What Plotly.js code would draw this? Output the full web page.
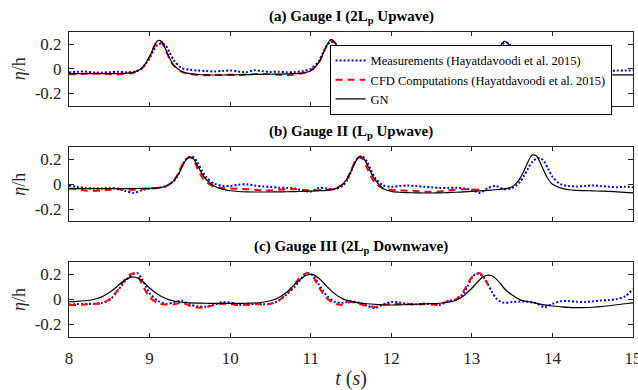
<!DOCTYPE html>
<html>
<head>
<meta charset="utf-8">
<script src="https://cdn.plot.ly/plotly-3.0.1.min.js"></script>
<style>html,body{margin:0;padding:0;background:#fff;}#chart{width:638px;height:390px;}</style>
</head>
<body>
<div id="chart"></div>
<script>
// ---------- Gauge I (2Lp Upwave) ----------
const tA = [8.0,8.1,8.2,8.3,8.4,8.5,8.6,8.7,8.8,8.9,9.0,
  9.05,9.1,9.15,9.2,9.25,9.3,
  9.4,9.5,9.6,9.7,9.8,9.9,10.0,10.1,10.2,10.3,10.4,10.5,10.6,10.7,10.8,10.9,11.0,11.1,
  11.15,11.2,11.25,11.3,11.35,11.4,
  11.5,11.6,11.7,11.8,11.9,12.0,12.1,12.2,12.3,12.4,12.5,12.6,12.7,12.8,12.9,13.0,13.1,13.2,13.3,
  13.35,13.4,13.45,13.5,
  13.6,13.7,13.8,13.9,14.0,14.1,14.2,14.3,14.4,14.5,14.6,14.7,14.8,14.9,15.0];
const measA = [-0.030,-0.025,-0.022,-0.030,-0.032,-0.028,-0.024,-0.028,-0.025,0.000,0.085,
  0.150,0.195,0.207,0.190,0.130,0.070,
  0.005,-0.008,-0.015,-0.018,-0.022,-0.018,-0.014,-0.022,-0.028,-0.012,-0.020,-0.026,-0.024,-0.028,-0.027,-0.020,0.000,0.060,
  0.130,0.190,0.220,0.210,0.160,0.090,
  0.010,-0.012,-0.020,-0.025,-0.020,-0.015,-0.022,-0.030,-0.020,-0.025,-0.030,-0.025,-0.020,-0.025,-0.030,-0.028,-0.020,0.010,0.100,
  0.170,0.210,0.212,0.170,
  0.060,0.000,-0.015,-0.020,-0.018,-0.020,-0.015,-0.020,-0.018,-0.015,-0.020,-0.018,-0.015,-0.014,-0.014];
const cfdA = [-0.045,-0.045,-0.040,-0.038,-0.040,-0.043,-0.046,-0.040,-0.032,0.000,0.095,
  0.170,0.224,0.215,0.150,0.078,0.025,
  -0.025,-0.042,-0.050,-0.053,-0.052,-0.050,-0.048,-0.052,-0.047,-0.043,-0.042,-0.044,-0.048,-0.052,-0.046,-0.036,-0.015,0.050,
  0.115,0.190,0.232,0.210,0.140,0.070,
  -0.010,-0.035,-0.045,-0.050,-0.048,-0.045,-0.042,-0.045,-0.050,-0.048,-0.044,-0.042,-0.045,-0.048,-0.045,-0.040,-0.030,0.000,null,
  null,null,null,null,
  null,null,null,null,null,null,null,null,null,null,null,null,null,null,null];
const gnA = [-0.040,-0.040,-0.040,-0.040,-0.040,-0.040,-0.039,-0.037,-0.030,0.001,0.099,
  0.174,0.229,0.222,0.159,0.085,0.029,
  -0.022,-0.040,-0.047,-0.050,-0.051,-0.051,-0.050,-0.049,-0.048,-0.047,-0.046,-0.045,-0.044,-0.042,-0.040,-0.035,-0.016,0.050,
  0.117,0.193,0.239,0.217,0.147,0.073,
  -0.008,-0.032,-0.042,-0.047,-0.049,-0.050,-0.050,-0.049,-0.048,-0.047,-0.046,-0.045,-0.044,-0.042,-0.040,-0.037,-0.029,0.005,0.108,
  0.180,0.224,0.204,0.137,
  0.019,-0.025,-0.040,-0.046,-0.049,-0.050,-0.050,-0.050,-0.050,-0.050,-0.050,-0.050,-0.050,-0.050,-0.050];

// ---------- Gauge II (Lp Upwave) ----------
const tB = [8.0,8.1,8.2,8.3,8.4,8.5,8.6,8.7,8.8,8.9,9.0,9.1,9.2,9.3,
  9.35,9.4,9.45,9.5,9.55,9.6,9.65,9.7,
  9.8,9.9,10.0,10.1,10.2,10.3,10.4,10.5,10.6,10.7,10.8,10.9,11.0,11.1,11.2,11.3,11.4,
  11.45,11.5,11.55,11.6,11.65,11.7,11.75,11.8,
  11.9,12.0,12.1,12.2,12.3,12.4,12.5,12.6,12.7,12.8,12.9,13.0,13.1,13.2,13.3,13.4,13.5,
  13.55,13.6,13.65,13.7,13.75,13.8,13.85,13.9,13.95,14.0,
  14.1,14.2,14.3,14.4,14.5,14.6,14.7,14.8,14.9,15.0];
const measB = [-0.010,-0.022,-0.030,-0.035,-0.035,-0.032,-0.035,-0.055,-0.070,-0.050,-0.035,-0.030,-0.015,0.025,
  0.070,0.140,0.200,0.222,0.215,0.170,0.110,0.060,
  0.005,-0.012,-0.015,-0.005,0.000,-0.010,-0.018,-0.022,-0.028,-0.030,-0.035,-0.050,-0.060,-0.030,-0.035,-0.040,-0.010,
  0.030,0.100,0.180,0.220,0.222,0.180,0.110,0.050,
  -0.010,-0.020,-0.015,-0.010,-0.015,-0.020,-0.025,-0.030,-0.030,-0.028,-0.035,-0.045,-0.070,-0.030,-0.015,-0.040,-0.030,
  -0.010,0.020,0.070,0.130,0.180,0.205,0.210,0.180,0.120,0.060,
  0.000,-0.015,-0.018,-0.015,-0.010,-0.015,-0.020,-0.025,-0.020,-0.025];
const cfdB = [-0.035,-0.040,-0.050,-0.055,-0.050,-0.045,-0.040,-0.042,-0.045,-0.040,-0.035,-0.030,-0.020,0.030,
  0.080,0.150,0.200,0.218,0.190,0.120,0.060,0.020,
  -0.020,-0.030,-0.035,-0.038,-0.040,-0.045,-0.050,-0.050,-0.045,-0.040,-0.040,-0.045,-0.050,-0.048,-0.045,-0.035,0.000,
  0.040,0.110,0.180,0.215,0.200,0.130,0.060,0.010,
  -0.035,-0.045,-0.050,-0.052,-0.055,-0.060,-0.060,-0.058,-0.050,-0.045,-0.040,-0.042,-0.045,null,null,null,null,
  null,null,null,null,null,null,null,null,null,null,
  null,null,null,null,null,null,null,null,null,null];
const gnB = [-0.036,-0.036,-0.036,-0.036,-0.036,-0.035,-0.035,-0.035,-0.035,-0.034,-0.033,-0.030,-0.017,0.027,
  0.072,0.134,0.194,0.220,0.200,0.145,0.085,0.040,
  -0.015,-0.040,-0.053,-0.059,-0.062,-0.063,-0.063,-0.063,-0.062,-0.061,-0.060,-0.058,-0.056,-0.053,-0.050,-0.038,0.003,
  0.044,0.104,0.173,0.220,0.214,0.159,0.090,0.034,
  -0.035,-0.058,-0.065,-0.068,-0.070,-0.071,-0.071,-0.070,-0.068,-0.065,-0.062,-0.058,-0.054,-0.050,-0.045,-0.038,-0.020,
  0.006,0.049,0.112,0.185,0.235,0.229,0.170,0.098,0.038,0.000,
  -0.030,-0.045,-0.050,-0.052,-0.054,-0.056,-0.058,-0.062,-0.066,-0.070];

// ---------- Gauge III (2Lp Downwave) ----------
const tC = [8.0,8.1,8.2,8.3,8.4,8.5,8.6,
  8.65,8.7,8.75,8.8,8.85,8.9,8.95,9.0,
  9.1,9.2,9.3,9.4,9.5,9.6,9.7,9.8,9.9,10.0,10.1,10.2,10.3,10.4,10.5,10.6,10.7,10.8,
  10.85,10.9,10.95,11.0,11.05,11.1,11.15,11.2,
  11.3,11.4,11.5,11.6,11.7,11.8,11.9,12.0,12.1,12.2,12.3,12.4,12.5,12.6,12.7,12.8,12.9,
  12.95,13.0,13.05,13.1,13.15,13.2,13.25,13.3,13.35,13.4,
  13.5,13.6,13.7,13.8,13.9,14.0,14.1,14.2,14.3,14.4,14.5,14.6,14.7,14.8,14.9,15.0];
const measC = [-0.040,-0.037,-0.036,-0.034,-0.028,-0.005,0.065,
  0.110,0.150,0.180,0.205,0.210,0.170,0.110,0.050,
  -0.010,-0.035,-0.025,-0.010,-0.040,-0.055,-0.058,-0.042,-0.022,-0.025,-0.040,-0.045,-0.035,-0.038,-0.035,-0.010,0.040,0.100,
  0.140,0.180,0.210,0.205,0.180,0.120,0.075,0.030,
  -0.018,-0.027,-0.015,-0.025,-0.050,-0.070,-0.040,-0.020,-0.025,-0.035,-0.038,-0.033,-0.038,-0.045,-0.013,0.000,0.050,
  0.110,0.170,0.205,0.200,0.175,0.120,0.060,0.010,-0.015,-0.027,
  -0.020,-0.017,-0.018,-0.030,-0.062,-0.035,-0.015,-0.013,-0.018,-0.020,-0.015,-0.008,-0.005,0.003,0.025,0.083];
const cfdC = [-0.045,-0.043,-0.040,-0.036,-0.030,0.000,0.070,
  0.120,0.165,0.195,0.210,0.190,0.130,0.070,0.020,
  -0.030,-0.040,-0.040,-0.025,-0.050,-0.065,-0.060,-0.045,-0.035,-0.035,-0.045,-0.040,-0.035,-0.040,-0.035,-0.010,0.045,0.120,
  0.165,0.195,0.210,0.200,0.160,0.100,0.050,0.010,
  -0.035,-0.040,-0.020,-0.035,-0.050,-0.060,-0.045,-0.035,-0.035,-0.035,-0.040,-0.038,-0.040,-0.040,-0.015,0.000,0.070,
  0.130,0.180,0.205,0.210,0.170,0.120,null,null,null,null,
  null,null,null,null,null,null,null,null,null,null,null,null,null,null,null,null];
const gnC = [-0.018,-0.015,-0.010,0.000,0.019,0.055,0.106,
  0.134,0.158,0.175,0.180,0.172,0.152,0.124,0.092,
  0.042,0.008,-0.012,-0.022,-0.027,-0.029,-0.030,-0.031,-0.031,-0.031,-0.031,-0.030,-0.028,-0.022,-0.010,0.014,0.058,0.120,
  0.147,0.175,0.194,0.200,0.193,0.170,0.140,0.105,
  0.045,0.005,-0.015,-0.027,-0.034,-0.039,-0.042,-0.044,-0.043,-0.041,-0.038,-0.035,-0.033,-0.030,-0.022,-0.008,0.030,
  0.060,0.090,0.125,0.160,0.185,0.195,0.190,0.165,0.130,0.090,
  0.035,-0.003,-0.018,-0.030,-0.043,-0.052,-0.058,-0.063,-0.065,-0.065,-0.062,-0.057,-0.050,-0.042,-0.034,-0.027];

const seriesNames = ['Measurements (Hayatdavoodi et al. 2015)', 'CFD Computations (Hayatdavoodi et al. 2015)', 'GN'];
const titles = ['<b>(a) Gauge I (2L<sub>p</sub> Upwave)</b>', '<b>(b) Gauge II (L<sub>p</sub> Upwave)</b>', '<b>(c) Gauge III (2L<sub>p</sub> Downwave)</b>'];
const xTicks = [8, 9, 10, 11, 12, 13, 14, 15];
const yTicks = [-0.2, 0, 0.2];
const yTickText = ['-0.2', '0', '0.2'];

const lineStyles = [
  {color: '#0000ff', width: 2, dash: '2px,2px'},
  {color: '#ff0000', width: 2, dash: '7px,5px'},
  {color: '#000000', width: 1.2, dash: 'solid'}
];

const gauges = [
  {t: tA, s: [measA, cfdA, gnA], xa: 'x', ya: 'y'},
  {t: tB, s: [measB, cfdB, gnB], xa: 'x2', ya: 'y2'},
  {t: tC, s: [measC, cfdC, gnC], xa: 'x3', ya: 'y3'}
];

const traces = [];
gauges.forEach((g, gi) => {
  g.s.forEach((vals, si) => {
    traces.push({
      x: g.t, y: vals, type: 'scatter', mode: 'lines',
      name: seriesNames[si], showlegend: gi === 0,
      line: Object.assign({shape: 'spline', smoothing: 0.8}, lineStyles[si]),
      connectgaps: false,
      xaxis: g.xa, yaxis: g.ya, hoverinfo: 'skip'
    });
  });
});

const FONT = 'Liberation Serif';
const axColor = '#262626';
function xAxis(anchor, labels) {
  return {
    anchor: anchor, domain: [0, 1], range: [8, 15], tickvals: xTicks, automargin: false,
    showticklabels: labels, ticks: 'inside', ticklen: 4, tickcolor: axColor,
    mirror: 'ticks', showline: true, linecolor: axColor, linewidth: 1,
    showgrid: false, zeroline: false, tickfont: {family: FONT, size: 17, color: axColor},
    ticklabelstandoff: 6, ticklabeloverflow: 'allow'
  };
}
function yAxis(anchor, domain) {
  return {
    anchor: anchor, domain: domain, range: [-0.3, 0.3], tickvals: yTicks, ticktext: yTickText, automargin: false,
    ticks: 'inside', ticklen: 5, tickcolor: axColor,
    mirror: 'ticks', showline: true, linecolor: axColor, linewidth: 1,
    showgrid: false, zeroline: false, tickfont: {family: FONT, size: 17, color: axColor},
    ticklabelstandoff: 3,
    title: {text: '<i>η</i>/h', font: {family: FONT, size: 18, color: axColor}, standoff: 4}
  };
}

const xC = xAxis('y3', true);
xC.title = {text: '<i>t</i> (<i>s</i>)', font: {family: FONT, size: 20, color: axColor}, standoff: 5};

const layout = {
  width: 638, height: 390,
  margin: {l: 69, r: 5, t: 32, b: 53, pad: 0},
  paper_bgcolor: '#ffffff', plot_bgcolor: '#ffffff',
  font: {family: FONT, size: 14, color: '#000'},
  xaxis: xAxis('y', false), yaxis: yAxis('x', [0.759, 1.0]),
  xaxis2: xAxis('y2', false), yaxis2: yAxis('x2', [0.379, 0.623]),
  xaxis3: xC, yaxis3: yAxis('x3', [0.0, 0.246]),
  showlegend: true,
  legend: {
    x: 0.962, xanchor: 'right', y: 0.958, yanchor: 'top',
    bgcolor: '#ffffff', bordercolor: '#000000', borderwidth: 1,
    font: {family: FONT, size: 12.5, color: '#000'}, tracegroupgap: 0
  },
  annotations: [
    {text: titles[0], xref: 'paper', yref: 'paper', x: 0.5, y: 1.049, yanchor: 'middle', showarrow: false, font: {family: FONT, size: 15, color: '#000'}},
    {text: titles[1], xref: 'paper', yref: 'paper', x: 0.5, y: 0.672, yanchor: 'middle', showarrow: false, font: {family: FONT, size: 15, color: '#000'}},
    {text: titles[2], xref: 'paper', yref: 'paper', x: 0.5, y: 0.295, yanchor: 'middle', showarrow: false, font: {family: FONT, size: 15, color: '#000'}}
  ]
};

Plotly.newPlot('chart', traces, layout, {staticPlot: true, displayModeBar: false});
</script>
</body>
</html>
